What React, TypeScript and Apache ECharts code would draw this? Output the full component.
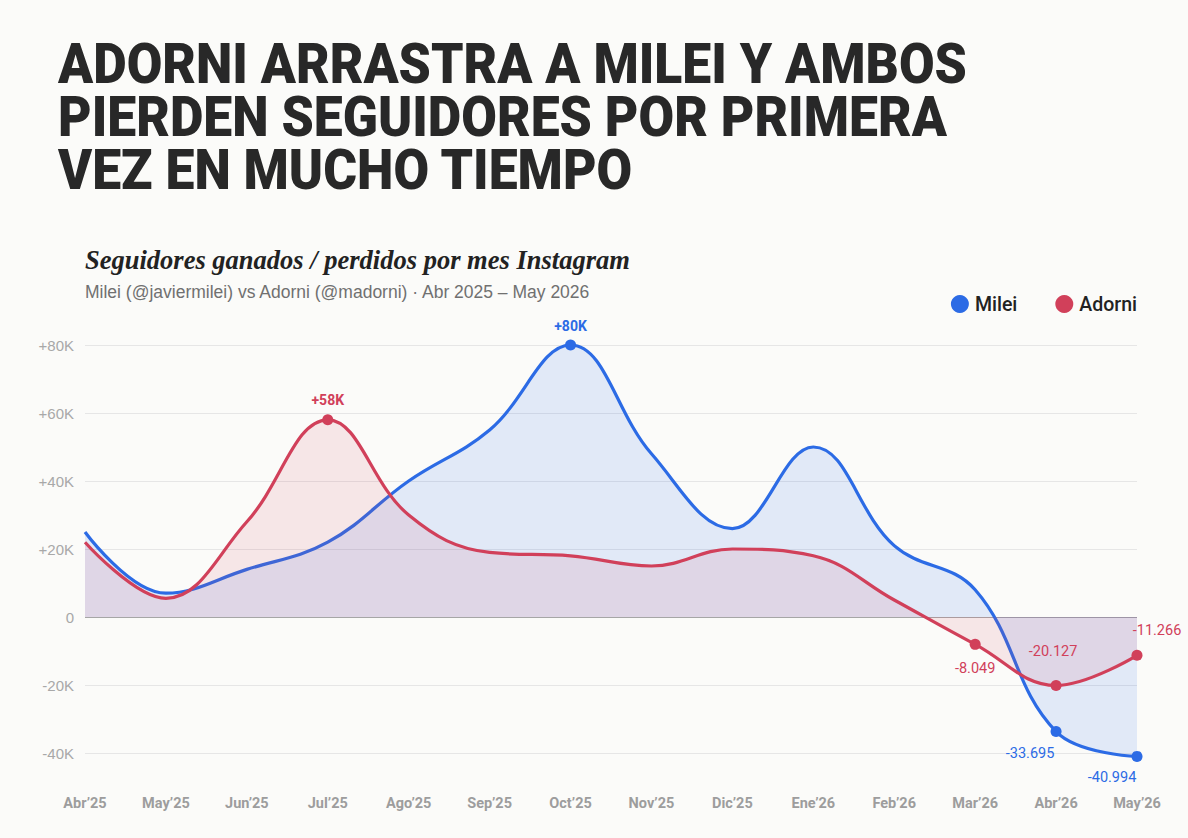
import React, { useEffect, useRef } from "react";
import * as echarts from "echarts";

const months = ["Abr’25", "May’25", "Jun’25", "Jul’25", "Ago’25", "Sep’25", "Oct’25", "Nov’25", "Dic’25", "Ene’26", "Feb’26", "Mar’26", "Abr’26", "May’26"];
const mileiValues = [25000, 7000, 14000, 22000, 40000, 55000, 80000, 48000, 26000, 50000, 21000, 8000, -33695, -40994];
const adorniValues = [22000, 5500, 28000, 58000, 30000, 19000, 18000, 15000, 20000, 18000, 5000, -8049, -20127, -11266];
const yTicks = [-40000, -20000, 0, 20000, 40000, 60000, 80000];

const titleLines = ["ADORNI ARRASTRA A MILEI Y AMBOS", "PIERDEN SEGUIDORES POR PRIMERA", "VEZ EN MUCHO TIEMPO"];
const chartTitle = "Seguidores ganados / perdidos por mes Instagram";
const chartSubtitle = "Milei (@javiermilei) vs Adorni (@madorni) · Abr 2025 – May 2026";

const BLUE = "#2c6be5";
const RED = "#d1405a";

function fmtThousands(v: number): string {
  const s = Math.abs(v).toString().replace(/\B(?=(\d{3})+(?!\d))/g, ".");
  return (v < 0 ? "-" : "") + s;
}
function fmtK(v: number): string {
  return (v > 0 ? "+" : "") + Math.round(v / 1000) + "K";
}

type Mark = { pos: string; off: [number, number]; kind: "k" | "n" };
const mileiMarks: Record<number, Mark> = {
  6: { pos: "top", off: [0, -2], kind: "k" },
  12: { pos: "bottom", off: [-26, 4], kind: "n" },
  13: { pos: "bottom", off: [-25, 3], kind: "n" },
};
const adorniMarks: Record<number, Mark> = {
  3: { pos: "top", off: [0, -2], kind: "k" },
  11: { pos: "bottom", off: [0, 6], kind: "n" },
  12: { pos: "top", off: [-3, -16], kind: "n" },
  13: { pos: "top", off: [20, -7], kind: "n" },
};

function buildData(values: number[], marks: Record<number, Mark>, color: string) {
  return values.map((v, i) => {
    const m = marks[i];
    if (!m) return { value: v, symbolSize: 0 };
    return {
      value: v,
      symbolSize: 11,
      label: {
        show: true,
        position: m.pos,
        offset: m.off,
        color,
        fontFamily: "Roboto",
        fontSize: m.kind === "k" ? 14 : 14.5,
        fontWeight: m.kind === "k" ? 700 : 400,
        formatter: () => (m.kind === "k" ? fmtK(v) : fmtThousands(v)),
      },
    };
  });
}

export default function App() {
  const ref = useRef<HTMLDivElement>(null);
  useEffect(() => {
    if (!ref.current) return;
    const chart = echarts.init(ref.current, undefined, { renderer: "svg" });

    const titleFont = "900 56px Roboto";
    let scaleX = 0.82;
    try {
      const ctx = document.createElement("canvas").getContext("2d");
      if (ctx) {
        ctx.font = titleFont;
        const w = ctx.measureText(titleLines[0]).width;
        if (w > 0) scaleX = 909 / w;
      }
    } catch (e) {}

    const titleGraphics = titleLines.map((t, i) => ({
      type: "text",
      x: 58,
      y: 36 + i * 53,
      scaleX,
      style: {
        text: t,
        font: titleFont,
        fill: "#282828",
        verticalAlign: "top",
        align: "left",
      },
    }));

    chart.setOption({
      animation: false,
      backgroundColor: "#fbfbf9",
      graphic: [
        ...titleGraphics,
        {
          type: "text",
          x: 85,
          y: 246,
          style: {
            text: chartTitle,
            font: "italic bold 26.5px 'Liberation Serif'",
            fill: "#222",
            verticalAlign: "top",
          },
        },
        {
          type: "text",
          x: 85,
          y: 283,
          style: {
            text: chartSubtitle,
            font: "17.5px 'Liberation Sans'",
            fill: "#707070",
            verticalAlign: "top",
          },
        },
      ],
      legend: {
        right: 46,
        top: 289,
        icon: "circle",
        itemWidth: 18,
        itemHeight: 18,
        itemGap: 38,
        textStyle: { fontFamily: "Roboto", fontSize: 19.5, fontWeight: 500, color: "#222", padding: [0, 0, 0, 1] },
        data: [
          { name: "Milei", itemStyle: { color: BLUE } },
          { name: "Adorni", itemStyle: { color: RED } },
        ],
      },
      grid: { left: 85, right: 51, top: 345, bottom: 838 - 753 },
      xAxis: {
        type: "category",
        data: months,
        boundaryGap: false,
        axisLine: { show: false },
        axisTick: { show: false },
        splitLine: { show: false },
        axisLabel: {
          margin: 43,
          color: "#9d9d9d",
          fontFamily: "Roboto",
          fontWeight: 700,
          fontSize: 14.5,
          interval: 0,
        },
      },
      yAxis: {
        type: "value",
        min: yTicks[0],
        max: yTicks[yTicks.length - 1],
        interval: 20000,
        axisLine: { show: false },
        axisTick: { show: false },
        splitLine: {
          lineStyle: {
            color: yTicks.map((t) => (t === 0 ? "#a6a6a6" : "#e6e6e6")),
            width: 1,
          },
        },
        axisLabel: {
          margin: 11,
          color: "#a8a8a8",
          fontFamily: "Liberation Sans",
          fontSize: 15,
          formatter: (v: number) => (v === 0 ? "0" : fmtK(v)),
        },
      },
      series: [
        {
          name: "Milei",
          type: "line",
          smooth: 0.4,
          clip: false,
          symbol: "circle",
          showAllSymbol: true,
          color: BLUE,
          lineStyle: { width: 3.2, color: BLUE },
          itemStyle: { color: BLUE },
          areaStyle: { color: "rgba(30,95,240,0.16)", origin: 0 },
          data: buildData(mileiValues, mileiMarks, BLUE),
          z: 2,
        },
        {
          name: "Adorni",
          type: "line",
          smooth: 0.4,
          clip: false,
          symbol: "circle",
          showAllSymbol: true,
          color: RED,
          lineStyle: { width: 3.2, color: RED },
          itemStyle: { color: RED },
          areaStyle: { color: "rgba(214,72,96,0.16)", origin: 0 },
          data: buildData(adorniValues, adorniMarks, RED),
          z: 3,
        },
      ],
    });
    return () => chart.dispose();
  }, []);

  return (
    <div style={{ position: "fixed", left: 0, top: 0, width: 1188, height: 838, background: "#fbfbf9" }}>
      <div ref={ref} style={{ width: 1188, height: 838 }} />
    </div>
  );
}
